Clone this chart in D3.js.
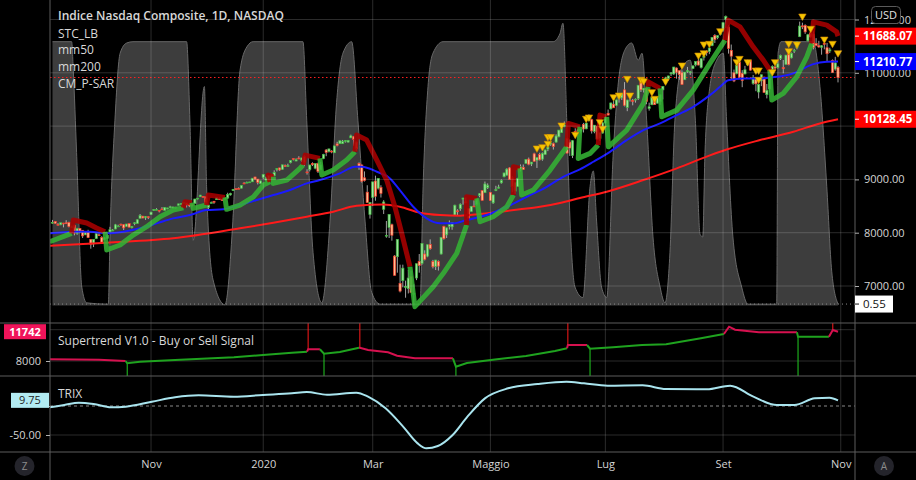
<!DOCTYPE html>
<html><head><meta charset="utf-8">
<script src="https://cdn.jsdelivr.net/npm/d3@7"></script>
<style>
body{margin:0;background:#000}
svg{display:block}
text{font-family:"Open Sans","Noto Sans","DejaVu Sans",sans-serif}
</style>
</head><body>
<svg id="c" width="916" height="480"></svg>
<script>
// ---------------- DATA ----------------
// Daily bars, Sep 12 2019 .. Oct 30 2020 (index 0 .. 287)
const tickIdx = [36, 77, 117, 160, 202, 245, 288];
const tickLabels = ["Nov", "2020", "Mar", "Maggio", "Lug", "Set", "Nov"];
const priceTicks = [7000, 8000, 9000, 10000, 11000, 12000];
const priceTickLabels = ["7000.00", "8000.00", "9000.00", "", "11000.00", "12000.00"];

const opens = [
8180,8210,8155,8150,8180,8185,8190,8100,8140,7990,8080,8045,7960,
8010,7875,7790,7890,7960,7910,7875,7895,8015,8035,8070,8120,8160,8150,8120,8170,8095,8170,8175,8270,8310,8280,8300,
8340,8430,8435,8420,8445,8420,8445,8470,8460,8465,8515,8535,8570,8555,8530,8525,8550,8640,8675,8680,
8675,8475,8560,8590,8620,8640,8620,8630,8650,8710,8790,8825,8830,8835,8930,8940,8950,8955,9045,9005,8920,
9040,8985,8975,9070,9070,9185,9215,9190,9260,9245,9315,9390,9345,9400,9360,9430,9140,9185,9300,9210,9300,
9180,9390,9550,9525,9530,9500,9665,9670,9670,9715,9700,9780,9800,9700,9300,9270,9030,8760,8340,
8665,8970,8835,8850,8440,7950,8100,8150,7560,7550,7050,7100,6985,6950,7180,6860,7150,7460,7425,7600,7560,7780,
7460,7365,7460,7600,8120,7960,8120,8110,8330,8410,8450,8630,8580,8450,8400,8500,8530,8700,8790,8750,8845,
8755,8560,8790,8835,8935,9050,9080,9215,9030,8780,8870,9180,9225,9300,9380,9290,9480,9360,9470,9380,
9470,9570,9660,9670,9700,9800,9880,9990,9770,9700,9450,9900,9930,9900,10030,9950,10100,10120,9900,10000,9770,9870,
10060,10240,10325,10410,10390,10520,10530,10680,10350,10580,10480,10500,10520,10820,10680,10710,10330,10400,10510,10430,10460,10680,
10800,10890,10980,10980,11090,11040,11000,10870,11020,11010,11080,11150,11220,11100,11290,11400,11400,11510,11700,11660,11720,
11800,12000,11860,11420,11000,10990,11200,10990,10980,11150,11230,10800,10900,10640,10850,10920,10590,10700,11060,11110,11100,
11270,11100,11160,11350,11280,11410,11470,11680,11880,11890,11600,11750,11730,11550,11510,11480,11550,11470,11410,11230,11070,11100];

const highs = [
8240,8215,8180,8187,8185,8235,8205,8130,8150,8090,8085,8050,8015,
8055,7880,7875,7990,8000,7935,7920,7990,8110,8070,8165,8150,8170,8160,8165,8175,8122,8195,8255,8350,8315,8310,8305,
8390,8440,8460,8425,8480,8480,8468,8505,8490,8485,8545,8555,8575,8560,8535,8530,8635,8650,8710,8685,
8680,8525,8585,8590,8665,8660,8640,8660,8750,8750,8820,8830,8850,8890,8950,8960,8955,9022,9050,9005,8975,
9093,9050,9072,9090,9170,9205,9220,9275,9280,9295,9360,9390,9395,9435,9405,9450,9190,9275,9320,9300,9315,
9330,9480,9570,9575,9550,9630,9705,9730,9740,9735,9740,9840,9815,9710,9320,9280,9150,8890,8570,
8953,9070,9020,8890,8610,8220,8345,8170,7580,7875,7400,7400,7100,7300,7290,7040,7420,7600,7805,7670,7780,7875,
7490,7490,7480,7915,8130,8095,8230,8195,8525,8440,8550,8655,8660,8455,8500,8610,8635,8745,8800,8960,8925,
8760,8712,8880,8900,9000,9125,9210,9230,9060,8945,9030,9280,9280,9380,9410,9325,9500,9415,9500,9505,
9560,9610,9695,9690,9845,9925,9980,10087,9780,9750,9740,9960,9950,9945,10060,10060,10220,10140,10020,10000,9875,10075,
10185,10310,10440,10470,10495,10570,10620,10825,10495,10600,10510,10520,10770,10830,10715,10720,10440,10540,10520,10545,10595,10750,
10925,10945,11015,11110,11100,11045,11045,11015,11110,11035,11140,11215,11270,11270,11320,11420,11467,11670,11725,11700,11790,
11945,12075,11895,11530,11060,11185,11260,11050,11130,11245,11240,10960,10920,10780,10965,10925,10790,10950,11140,11135,11220,
11340,11240,11335,11430,11380,11450,11580,11960,11940,11910,11730,11800,11780,11650,11600,11520,11550,11560,11470,11250,11300,11130];

const lows = [
8170,8165,8140,8140,8100,8175,8100,8090,7950,7960,7990,7900,7955,
7900,7700,7730,7880,7945,7820,7860,7880,8010,8030,8065,8115,8125,8050,8110,8100,8080,8140,8170,8265,8270,8240,8255,
8335,8410,8430,8380,8425,8415,8440,8455,8455,8450,8510,8520,8545,8475,8480,8490,8550,8625,8670,8660,
8545,8435,8555,8540,8620,8620,8595,8625,8630,8695,8785,8810,8820,8830,8910,8930,8940,8955,8990,8905,8910,
9010,8980,8970,9045,9060,9150,9160,9180,9235,9245,9300,9355,9340,9380,9330,9250,9090,9150,9250,9190,9120,
9175,9380,9435,9505,9490,9495,9620,9665,9665,9690,9690,9775,9625,9530,9180,8940,8960,8560,8265,
8500,8600,8810,8660,8350,7905,7900,7850,7195,7250,6880,6975,6780,6860,6875,6631,7110,7250,7400,7480,7540,7680,
7330,7300,7290,7590,7870,7900,8060,8055,8320,8320,8410,8525,8555,8220,8390,8480,8510,8665,8600,8745,8820,
8600,8540,8780,8830,8920,9040,9070,9000,8760,8730,8860,9150,9180,9295,9265,9250,9330,9215,9355,9350,
9460,9530,9630,9560,9690,9790,9870,9980,9490,9440,9400,9780,9880,9860,9880,9940,10095,9860,9865,9750,9720,9860,
10050,10200,10310,10340,10380,10440,10490,10370,10280,10460,10390,10440,10490,10640,10630,10410,10290,10400,10400,10425,10400,10500,
10795,10850,10940,10960,10890,10870,10775,10865,11000,10960,11070,11120,11140,11080,11230,11320,11350,11500,11560,11630,11700,
11770,11840,11360,10880,10825,10970,10900,10730,10970,11130,11040,10775,10655,10520,10750,10620,10520,10630,11030,11050,11080,
11240,10990,11150,11140,11270,11370,11440,11670,11820,11730,11590,11660,11440,11500,11470,11340,11440,11200,11370,11000,11040,10820];

const closes = [
8194,8177,8153,8186,8177,8182,8118,8112,7993,8077,8031,7940,7999,
7908,7785,7872,7982,7956,7824,7903,7951,8057,8048,8148,8124,8156,8090,8163,8104,8120,8186,8243,8325,8276,8303,8292,
8386,8434,8435,8411,8434,8475,8464,8486,8482,8479,8540,8549,8570,8526,8506,8520,8632,8647,8705,8665,
8567,8520,8566,8570,8656,8621,8616,8654,8717,8735,8814,8823,8827,8887,8925,8945,8952,9022,9007,8945,8973,
9093,9021,9071,9069,9129,9203,9179,9274,9252,9259,9357,9389,9370,9383,9402,9315,9139,9270,9275,9299,9151,
9273,9467,9508,9572,9521,9628,9639,9726,9712,9731,9733,9817,9751,9577,9221,8966,8980,8566,8567,
8953,8684,9019,8739,8576,7950,8344,7953,7201,7875,6905,7335,6990,7150,6880,6861,7418,7384,7798,7502,7774,7700,
7361,7487,7374,7913,7887,8091,8153,8192,8516,8394,8533,8650,8561,8263,8495,8495,8634,8730,8608,8915,8890,
8605,8710,8810,8855,8980,9121,9193,9002,8863,8944,9015,9235,9185,9375,9285,9325,9340,9412,9368,9490,
9552,9608,9683,9616,9814,9925,9953,10020,9493,9589,9726,9895,9911,9943,9946,10056,10131,9910,10017,9757,9874,10059,
10155,10207,10434,10344,10492,10548,10617,10391,10489,10550,10474,10503,10767,10681,10706,10461,10363,10536,10403,10542,10587,10745,
10903,10941,10998,11108,11011,10968,10782,11012,11042,11019,11129,11210,11146,11265,11312,11380,11466,11665,11625,11696,11775,
11940,12056,11458,11313,10847,11142,10919,10854,11057,11191,11050,10910,10793,10779,10964,10633,10672,10914,11118,11086,11168,
11326,11076,11332,11155,11365,11421,11580,11876,11863,11768,11714,11672,11479,11517,11485,11506,11548,11358,11431,11005,11186,10912];

// STC_LB oscillator (bar index, value 0-100)
const stcIdx = [0,7,7.6,8.8,10.7,12.5,20.4,21,22.8,24.7,27.1,29.4,49,50.2,51.4,55.5,56.3,58.6,63,65.9,68.5,71,73.3,91.5,92.9,95.2,98.4,101.4,103.8,106.1,109.3,111.6,114.2,116.6,119.7,134.3,135.4,137.2,139,142.7,182.9,185.4,186.5,187.9,189.1,190.9,193.8,196.4,197.6,198.8,200.6,202.5,204.9,206.6,209.2,211.6,214,215.4,217.1,219.4,222,223.8,225.6,227.4,229.9,233,234.9,236.6,237.6,238.4,240.2,242.7,245.1,246.3,248.6,251.8,254.1,264.6,265.1,266.2,277.9,280.4,282.9,284.7,287];
const stcVal = [100,100,89,58,7,1,0.5,26,70,95.6,99.5,100,100,70,24.7,83,45,10,0.3,32,89,98,100,100,70,20,1,32,77,95.6,100,70,32,5,0.5,0.5,45,83,95.6,100,100,103,107,70,32,7,3,45,51,32,7,3,58,83,97,99.5,93,95.6,70,26,7,1,20,70,90,93,70,27,26,58,83,93,95.6,70,26,7,0.5,0.5,95.6,100,100,83,45,13,0.55];

// mm50 (blue)
const ma50Idx = [-1,7.6,13.7,19.8,25.9,32,38.1,44.1,50.2,56.3,62.4,68.5,74.6,80.7,86.8,92.9,97.7,105,110.5,113,118.5,123.3,126.9,131.8,136.7,141.6,146.4,151.3,158.6,166,173.3,180.6,186.6,192.7,197.6,203.7,209.8,215.9,222,228.1,234.1,240.2,243.9,246.9,252.4,258.5,264.6,270.7,274.3,278,282.9,287];
const ma50Val = [7988,8018,8018,7988,8018,8082,8175,8269,8331,8425,8440,8519,8612,8706,8800,8925,8988,9113,9237,9237,9144,9019,8800,8487,8269,8175,8175,8238,8331,8487,8674,8862,9049,9190,9331,9518,9737,9925,10050,10206,10362,10581,10737,10862,10894,10894,10924,10988,11081,11162,11206,11211];

// mm200 (red)
const ma200Idx = [-1,19.8,44.1,68.5,80.7,92.9,102.6,111.1,120.9,126.9,134.3,141.6,148.9,156.2,163.5,170.8,178.1,185.4,192.7,202.5,215.9,228.1,240.2,246.3,258.5,270.7,280.4,287];
const ma200Val = [7756,7812,7894,8082,8187,8300,8394,8506,8531,8487,8375,8331,8318,8350,8394,8438,8487,8556,8650,8769,8988,9207,9450,9560,9738,9894,10050,10128];

// CM_P-SAR thick line: index, value, direction (1 = below price / green, -1 = above / dark red)
const sarIdx = [-1,7,  7.6,12.5,16.1,19.2,  19.8,24.7,29.5,34.4,39.3,44.1,47.8,  48.4,50.9,  51.4,56.3,  56.9,63,  63.6,68.5,73.4,77,79.5,  78.8,80.7,  80.7,85.6,90.4,91.6,  92.3,97.7,  98.4,102.6,107.5,110.5,  111.1,114.8,118.5,122.1,125.1,127.6,130,130.6,  132.4,139.1,142.8,147.7,151.3,  151.3,155,  156.2,161,166,168.4,  168.4,170.8,  171.4,175.7,181.8,187.9,  188.5,192.7,  192.1,196.4,199.4,  200,202.5,  203.1,209.8,215.9,217.7,  217.7,222,  222.6,228.1,234.1,240.2,245.7,  246.9,251.2,256,259.7,262.1,  262.8,267,271.9,275.6,277.4,  278,282.9,286.5,287];
const sarVal = [7831,7988,  8238,8181,8088,8018,  7675,7769,7956,8112,8299,8425,8468,  8581,8562,  8457,8519,  8706,8663,  8438,8519,8674,8894,8956,  9081,9049,  8925,8988,9207,9269,  9456,9394,  9081,9175,9363,9518,  9831,9738,9363,8988,8487,7988,7488,7362,  6612,6987,7238,7613,8144,  8674,8644,  8206,8299,8487,8706,  9237,9207,  8706,8800,9175,9612,  10051,9987,  9394,9488,9644,  10206,10174,  9612,9925,10426,10737,  10831,10707,  10174,10300,10675,11176,11613,  11988,11862,11487,11238,11050,  10488,10613,10924,11299,11551,  11956,11894,11768,11688];
const sarDir = [1,1,  -1,-1,-1,-1,  1,1,1,1,1,1,1,  -1,-1,  1,1,  -1,-1,  1,1,1,1,1,  -1,-1,  1,1,1,1,  -1,-1,  1,1,1,1,  -1,-1,-1,-1,-1,-1,-1,-1,  1,1,1,1,1,  -1,-1,  1,1,1,1,  -1,-1,  1,1,1,1,  -1,-1,  1,1,1,  -1,-1,  1,1,1,1,  -1,-1,  1,1,1,1,1,  -1,-1,-1,-1,-1,  1,1,1,1,1,  -1,-1,-1,-1];

// yellow down-triangles (bar index, price)
const triIdx = [177,179,181,181,182,186,191,195,196,200,201,205,207,210,211,215,216,219,220,224,230,236,238,238,240,244,250,251,254,257,258,258,263,264,269,269,272,274,277,282,285,287];
const triVal = [9588,9612,9675,9800,9800,10019,9844,10144,10169,10081,9957,10549,10581,10894,10581,10876,10849,10643,10519,10844,11144,11331,11374,11538,11551,11787,11206,11269,11206,11050,11050,10876,11018,11206,11551,11412,11538,12063,11832,11631,11551,11374];

// Supertrend V1.0 (index, value, direction)
const stIdx = [-1,17,26.7,  27.3,32,44.8,66.3,76.9,87.5,93,  93.4,97.7,  99.2,105,112,  112.3,115.3,122.6,125.9,132.4,146.3,  147.4,151.4,162.4,173,183.6,188,  188.3,195.3,  196.4,204.8,215.4,224.2,236.9,245.3,  247.2,249.4,258.1,272,  272.4,283.7,  285.1,287];
const stVal = [8217,8166,8000,  7706,7910,8128,8473,8766,9060,9188,  9494,9494,  8932,9149,9698,  9698,9405,9111,8677,8345,8345,  7272,7745,8217,8639,9277,9622,  10043,10043,  9571,9750,10043,10133,10899,11448,  12380,11997,11665,11665,  11103,11103,  11959,11742];
const stDir = [-1,-1,-1,  1,1,1,1,1,1,1,  -1,-1,  1,1,1,  -1,-1,-1,-1,-1,-1,  1,1,1,1,1,1,  -1,-1,  1,1,1,1,1,1,  -1,-1,-1,-1,  1,1,  -1,-1];
const stSigIdx = [27.3,93.4,99.2,112.3,147.4,188.3,196.4,272.4,285.1];
const stSigDir = [1,-1,1,-1,1,-1,1,1,-1];

// TRIX
const trixIdx = [-1,4.3,9.6,15,21.4,26.7,36.3,44.8,53.4,66.2,76.9,87.5,92.9,100.3,111,115.3,121.7,128.1,133.4,136.6,140.8,146.2,151.6,158,166.5,177.2,187.8,194.2,202.8,215.6,224.1,239.1,247.6,256.1,264.7,271.1,278.5,283.9,287];
const trixVal = [-2.3,1.7,5.7,3.4,-2.3,-1.1,7.4,15,18.4,16.1,19,21.8,24.1,19.5,23,16.1,-4,-35.6,-64.4,-72.9,-69,-50,-18.4,13.2,30.5,37.9,41.9,39.1,35,35.6,29.3,28.7,35,16.1,1.7,1.7,13.2,14.3,9.75];

// ---------------- CHART ----------------
const W = 916, H = 480, L = 50, R = 855;
const n = Math.min(opens.length, highs.length, lows.length, closes.length);
const x = d3.scaleLinear().domain([0, 287]).range([52.5, 838]);
const y = d3.scaleLinear().domain([7000, 12000]).range([286, 19.5]);
const yStc = d3.scaleLinear().domain([0, 100]).range([305.5, 41.7]);
const ySt = d3.scaleLinear().domain([8000, 11742]).range([361, 331.7]);
const yTr = d3.scaleLinear().domain([0, -50]).range([406, 435]);

const svg = d3.select("#c");
svg.append("rect").attr("width", W).attr("height", H).attr("fill", "#000");
const defs = svg.append("defs");
function clip(id, y0, y1) {
  defs.append("clipPath").attr("id", id).append("rect")
    .attr("x", L).attr("y", y0).attr("width", R - L).attr("height", y1 - y0);
}
clip("cMain", 0, 323); clip("cSt", 323, 376); clip("cTr", 376, 452);

const gridCol = "rgba(255,255,255,0.17)";
// STC area (background of main pane)
const gMain = svg.append("g").attr("clip-path", "url(#cMain)");
const stc = stcIdx.map((d, i) => [d, stcVal[i]]);
gMain.append("path").datum(stc)
  .attr("d", d3.area().x(d => x(d[0])).y0(yStc(0)).y1(d => yStc(d[1])).curve(d3.curveMonotoneX))
  .attr("fill", "#3d3d3d");
gMain.append("path").datum(stc)
  .attr("d", d3.line().x(d => x(d[0])).y(d => yStc(d[1])).curve(d3.curveMonotoneX))
  .attr("fill", "none").attr("stroke", "#686868").attr("stroke-width", 1);

// grid
const gGrid = svg.append("g");
tickIdx.forEach(t => gGrid.append("line").attr("x1", x(t)).attr("x2", x(t)).attr("y1", 0).attr("y2", 452)
  .attr("stroke", gridCol));
priceTicks.forEach(p => gGrid.append("line").attr("x1", L).attr("x2", R).attr("y1", y(p)).attr("y2", y(p))
  .attr("stroke", gridCol));
[8000, 12000].forEach(v => gGrid.append("line").attr("x1", L).attr("x2", R).attr("y1", ySt(v)).attr("y2", ySt(v))
  .attr("stroke", gridCol));
[-50].forEach(v => gGrid.append("line").attr("x1", L).attr("x2", R).attr("y1", yTr(v)).attr("y2", yTr(v))
  .attr("stroke", gridCol));

// dotted level lines
gMain.append("line").attr("x1", L).attr("x2", R).attr("y1", yStc(0.55)).attr("y2", yStc(0.55))
  .attr("stroke", "#8a8a8a").attr("stroke-dasharray", "1,3");
gMain.append("line").attr("x1", L).attr("x2", R).attr("y1", y(closes[n - 1])).attr("y2", y(closes[n - 1]))
  .attr("stroke", "#ff2020").attr("stroke-dasharray", "1.5,2.5");

// candles
const gC = gMain.append("g");
for (let i = 0; i < n; i++) {
  const up = closes[i] >= opens[i];
  const cx = x(i);
  gC.append("line").attr("x1", cx).attr("x2", cx).attr("y1", y(highs[i])).attr("y2", y(lows[i]))
    .attr("stroke", "#c8c8c8").attr("stroke-width", 0.8);
  const top = y(Math.max(opens[i], closes[i])), bot = y(Math.min(opens[i], closes[i]));
  gC.append("rect").attr("x", cx - 1.1).attr("y", top).attr("width", 2.2).attr("height", Math.max(0.8, bot - top))
    .attr("fill", up ? "#9be39b" : "#ffbf8f")
    .attr("stroke", up ? "#3fb53f" : "#f33a2a").attr("stroke-width", 0.7);
}

// moving averages
const lineGen = (xs, ys, sc) => d3.line().x((d, i) => x(xs[i])).y((d, i) => sc(ys[i])).curve(d3.curveMonotoneX)(xs);
gMain.append("path").attr("d", lineGen(ma200Idx, ma200Val, y)).attr("fill", "none").attr("stroke", "#ff1a1a").attr("stroke-width", 2);
gMain.append("path").attr("d", lineGen(ma50Idx, ma50Val, y)).attr("fill", "none").attr("stroke", "#1a1aff").attr("stroke-width", 2);

// run-based colored line (SAR / supertrend)
function runs(idx, val, dir) {
  const out = []; let cur = null;
  for (let i = 0; i < idx.length; i++) {
    if (!cur || cur.dir !== dir[i]) {
      const prev = cur ? cur.pts[cur.pts.length - 1] : null;
      cur = { dir: dir[i], pts: prev ? [prev] : [] };
      out.push(cur);
    }
    cur.pts.push([idx[i], val[i]]);
  }
  return out;
}
runs(sarIdx, sarVal, sarDir).forEach(r => {
  gMain.append("path").datum(r.pts)
    .attr("d", d3.line().x(d => x(d[0])).y(d => y(d[1])).curve(d3.curveLinear))
    .attr("fill", "none").attr("stroke", r.dir > 0 ? "#34b234" : "#a80000")
    .attr("stroke-opacity", 0.88).attr("stroke-width", 5).attr("stroke-linejoin", "round");
});

// triangles
const tri = d3.symbol().type(d3.symbolTriangle).size(24);
triIdx.forEach((t, i) => {
  gMain.append("path").attr("d", tri()).attr("transform", `translate(${x(t)},${y(triVal[i])}) rotate(180)`)
    .attr("fill", "#f5c400").attr("stroke", "#d08a00").attr("stroke-width", 0.6);
});

// supertrend pane
const gSt = svg.append("g").attr("clip-path", "url(#cSt)");
stSigIdx.forEach((t, i) => {
  const k = stIdx.indexOf(t);
  const v = ySt(stVal[k]);
  gSt.append("line").attr("x1", x(t)).attr("x2", x(t))
    .attr("y1", stSigDir[i] < 0 ? 323 : v).attr("y2", stSigDir[i] < 0 ? v : 376)
    .attr("stroke", stSigDir[i] < 0 ? "#ff1a1a" : "#22cc22").attr("stroke-width", 1);
});
runs(stIdx, stVal, stDir).forEach(r => {
  gSt.append("path").datum(r.pts)
    .attr("d", d3.line().x(d => x(d[0])).y(d => ySt(d[1])))
    .attr("fill", "none").attr("stroke", r.dir > 0 ? "#1fa31f" : "#d6114f").attr("stroke-width", 2);
});

// TRIX pane
const gTr = svg.append("g").attr("clip-path", "url(#cTr)");
gTr.append("line").attr("x1", L).attr("x2", R).attr("y1", yTr(0)).attr("y2", yTr(0))
  .attr("stroke", "#8a8a8a").attr("stroke-dasharray", "3,3");
gTr.append("path").attr("d", lineGen(trixIdx, trixVal, yTr)).attr("fill", "none")
  .attr("stroke", "#a9e4ee").attr("stroke-width", 2);

// separators / frame
const sepCol = "#5c5c5c";
[323, 376, 452].forEach(v => svg.append("line").attr("x1", 0).attr("x2", W).attr("y1", v).attr("y2", v).attr("stroke", sepCol));
[L, R].forEach(v => svg.append("line").attr("x1", v).attr("x2", v).attr("y1", 0).attr("y2", H).attr("stroke", sepCol));

// axes
function styleAxis(g) {
  g.select(".domain").remove();
  g.selectAll(".tick line").attr("stroke", "#b0b0b0");
  g.selectAll("text").attr("fill", "#d4d4d4").style("font-size", "11px").style("font-family", '"Open Sans",sans-serif');
}
svg.append("g").attr("transform", `translate(${R},0)`)
  .call(d3.axisRight(y).tickValues(priceTicks).tickFormat((d, i) => priceTickLabels[i]).tickSize(4).tickPadding(5)).call(styleAxis);
svg.append("g").attr("transform", `translate(${L},0)`)
  .call(d3.axisLeft(ySt).tickValues([8000]).tickFormat(d => String(d)).tickSize(4).tickPadding(5)).call(styleAxis);
svg.append("g").attr("transform", `translate(${L},0)`)
  .call(d3.axisLeft(yTr).tickValues([0, -50]).tickFormat(d => d === 0 ? "" : d.toFixed(2)).tickSize(4).tickPadding(5)).call(styleAxis);
svg.append("g").attr("transform", `translate(0,452)`)
  .call(d3.axisBottom(x).tickValues(tickIdx).tickFormat((d, i) => tickLabels[i]).tickSize(0).tickPadding(8)).call(styleAxis);

// value labels on the right scale
function rLabel(v, txt, bg, fg, w) {
  svg.append("rect").attr("x", R).attr("y", v - 8.5).attr("width", w).attr("height", 17).attr("fill", bg);
  svg.append("line").attr("x1", R).attr("x2", R + 4).attr("y1", v).attr("y2", v).attr("stroke", fg);
  svg.append("text").attr("x", R + 8).attr("y", v + 4).attr("fill", fg).style("font-size", "11.5px")
    .style("font-weight", bg === "#ffffff" ? "400" : "700").text(txt);
}
rLabel(y(11688.07), "11688.07", "#ff0000", "#ffffff", 61);
rLabel(y(11210.77), "11210.77", "#0000ff", "#ffffff", 61);
rLabel(y(10128.45), "10128.45", "#ff0000", "#ffffff", 61);
rLabel(yStc(0.55), "0.55", "#ffffff", "#111111", 38);

// left labels
svg.append("rect").attr("x", 4).attr("y", ySt(11742) - 7.5).attr("width", 42).attr("height", 15).attr("fill", "#f0145a");
svg.append("text").attr("x", 25).attr("y", ySt(11742) + 4).attr("text-anchor", "middle").attr("fill", "#fff")
  .style("font-size", "11px").style("font-weight", "700").text("11742");
svg.append("rect").attr("x", 11).attr("y", yTr(9.75) - 7.5).attr("width", 38).attr("height", 15).attr("fill", "#b2ebf2");
svg.append("text").attr("x", 30).attr("y", yTr(9.75) + 4).attr("text-anchor", "middle").attr("fill", "#222")
  .style("font-size", "11px").text("9.75");

// USD badge
svg.append("rect").attr("x", 871.5).attr("y", 6.5).attr("width", 29).attr("height", 17).attr("rx", 4)
  .attr("fill", "#000").attr("stroke", "#5a5a5a");
svg.append("text").attr("x", 886).attr("y", 19).attr("text-anchor", "middle").attr("fill", "#e0e0e0")
  .style("font-size", "11px").text("USD");

// legends
const leg = [["Indice Nasdaq Composite, 1D, NASDAQ", 20, 600], ["STC_LB", 37.7, 400], ["mm50", 54.3, 400], ["mm200", 71, 400], ["CM_P-SAR", 87.7, 400]];
leg.forEach(l => svg.append("text").attr("x", 58).attr("y", l[1]).attr("fill", "#d8d8d8")
  .style("font-size", "12px").style("font-weight", l[2]).text(l[0]));
svg.append("text").attr("x", 58).attr("y", 344.5).attr("fill", "#d8d8d8").style("font-size", "12px")
  .text("Supertrend V1.0 - Buy or Sell Signal");
svg.append("text").attr("x", 58).attr("y", 397.5).attr("fill", "#d8d8d8").style("font-size", "12px").text("TRIX");

// Z / A buttons
[[24.5, "Z"], [884, "A"]].forEach(b => {
  svg.append("circle").attr("cx", b[0]).attr("cy", 466).attr("r", 10).attr("fill", "#24242b");
  svg.append("text").attr("x", b[0]).attr("y", 470).attr("text-anchor", "middle").attr("fill", "#8c8c8c")
    .style("font-size", "10px").text(b[1]);
});
</script>
</body></html>
